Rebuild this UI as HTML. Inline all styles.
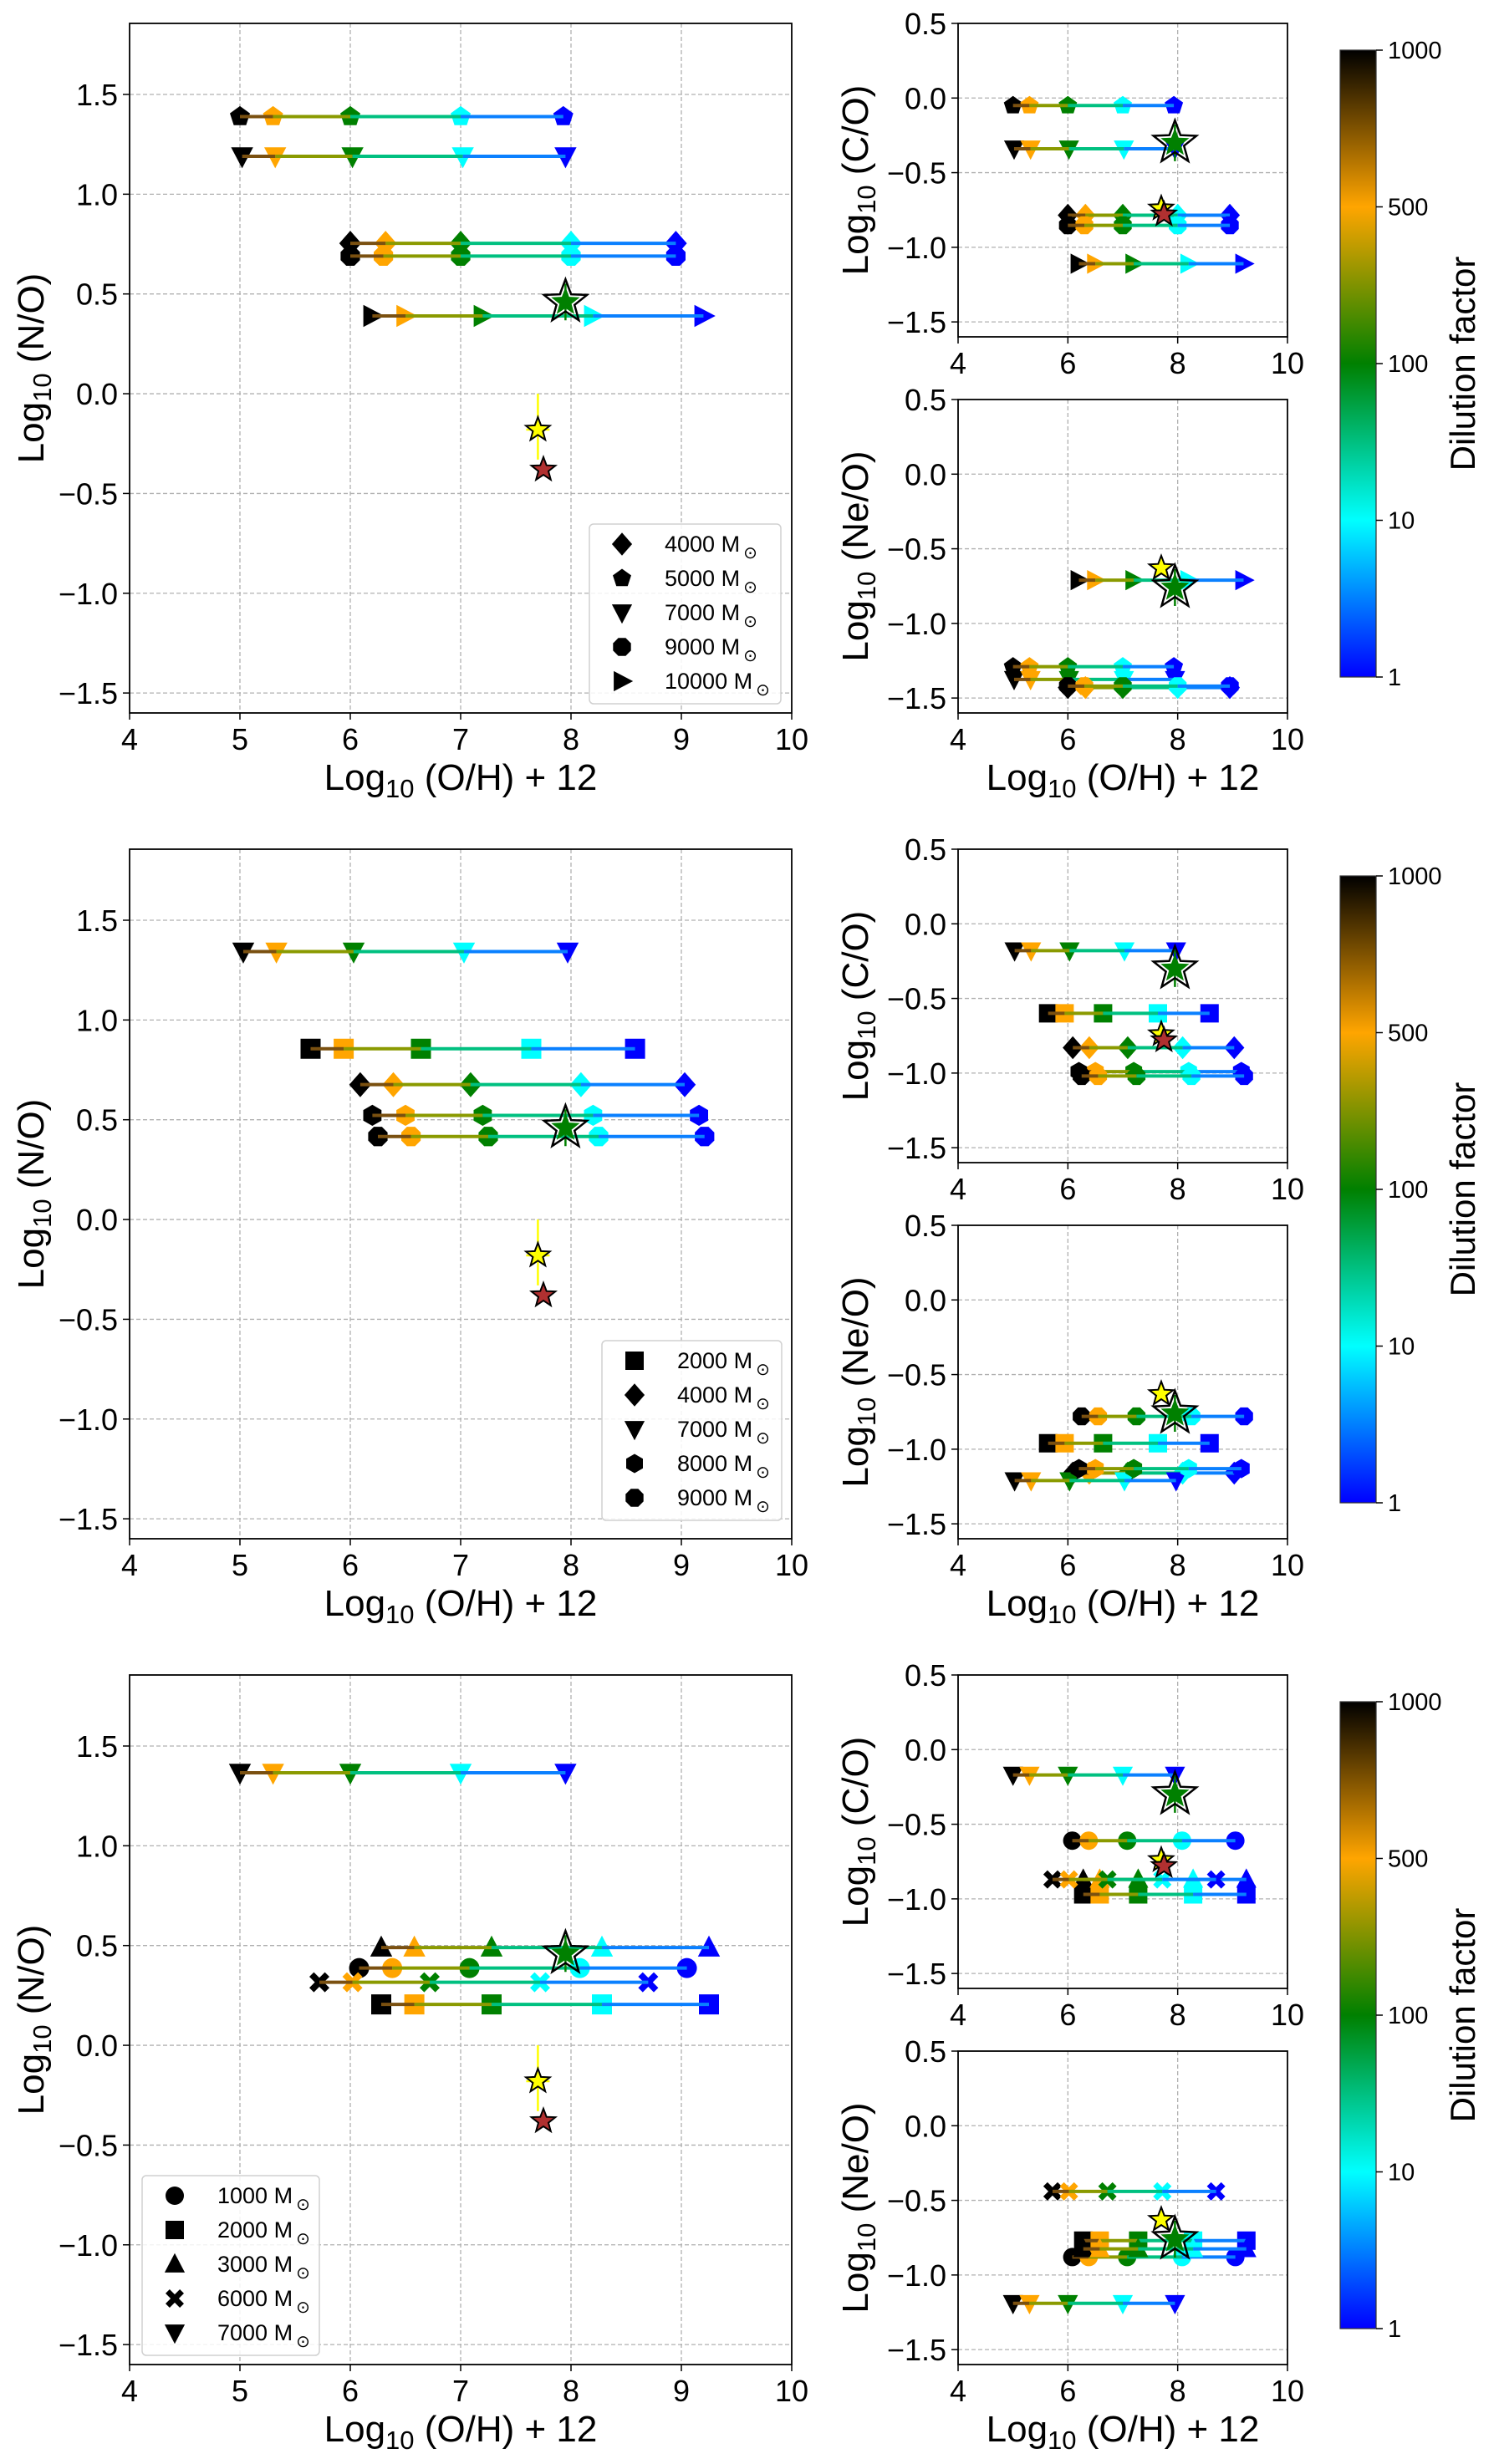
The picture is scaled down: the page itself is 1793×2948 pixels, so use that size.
<!DOCTYPE html>
<html><head><meta charset="utf-8"><style>
html,body{margin:0;padding:0;background:#fff;}
svg{display:block;font-family:"Liberation Sans",sans-serif;}
</style></head><body>
<svg id="fig" xmlns="http://www.w3.org/2000/svg" width="1793" height="2948" viewBox="0 0 1793 2948">
<defs>
<linearGradient id="cbgrad" x1="0" y1="0" x2="0" y2="1">
<stop offset="0" stop-color="#000000"/><stop offset="0.25" stop-color="#ffa500"/><stop offset="0.5" stop-color="#008000"/><stop offset="0.75" stop-color="#00ffff"/><stop offset="1" stop-color="#0000ff"/>
</linearGradient>
</defs>
</svg>
<script>
// ---------- data ----------
const dilutionLabels = ["1000","500","100","10","1"];
const markerColors = ["#000000","#ffa500","#008000","#00ffff","#0000ff"];
const segColors = ["#7a5010","#8a9a00","#00c080","#0a80ff"];
const rowOffsets = [0,988,1976];

// row 1
const r1Markers = ["diamond","pentagon","tridown","octagon","triright"];
const r1Labels = ["4000","5000","7000","9000","10000"];
const r1OH = [[6.0,6.32,7.0,8.0,8.95],[5.0,5.3,6.0,7.0,7.93],[5.02,5.32,6.02,7.02,7.95],[6.0,6.3,7.0,8.0,8.95],[6.2,6.5,7.2,8.2,9.2]];
const r1NO = [0.754,1.389,1.19,0.69,0.39];
const r1CO = [-0.785,-0.05,-0.34,-0.853,-1.11];
const r1NeO = [-1.43,-1.29,-1.375,-1.42,-0.71];
// row 2
const r2Markers = ["square","diamond","tridown","hexagon","octagon"];
const r2Labels = ["2000","4000","7000","8000","9000"];
const r2OH = [[5.64,5.94,6.64,7.64,8.58],[6.09,6.39,7.09,8.09,9.03],[5.03,5.33,6.03,7.03,7.97],[6.2,6.5,7.2,8.2,9.16],[6.25,6.55,7.25,8.25,9.21]];
const r2NO = [0.856,0.676,1.343,0.522,0.416];
const r2CO = [-0.60,-0.83,-0.18,-0.99,-1.02];
const r2NeO = [-0.96,-1.16,-1.21,-1.13,-0.78];
// row 3
const r3Markers = ["circle","square","triup","cross","tridown"];
const r3Labels = ["1000","2000","3000","6000","7000"];
const r3OH = [[6.08,6.38,7.08,8.08,9.05],[6.28,6.58,7.28,8.28,9.25],[6.28,6.58,7.28,8.28,9.25],[5.72,6.02,6.72,7.72,8.7],[5.0,5.3,6.0,7.0,7.95]];
const r3NO = [0.387,0.205,0.49,0.316,1.366];
const r3CO = [-0.61,-0.97,-0.87,-0.87,-0.17];
const r3NeO = [-0.88,-0.77,-0.825,-0.44,-1.19];
// observations
const obsOH = [7.95,7.7,7.75];
const obsNO = [0.46,-0.18,-0.38];
const obsCO = [-0.30,-0.74,-0.78];
const obsNeO = [-0.76,-0.63,null];
const obsColors = ["#008000","#ffff00","#b03030"];
const leftYTicks = [-1.5,-1.0,-0.5,0.0,0.5,1.0,1.5];
const leftXTicks = [4,5,6,7,8,9,10];
const rightYTicks = [-1.5,-1.0,-0.5,0.0,0.5];
const rightXTicks = [4,6,8,10];
const cbTicks = ["1000","500","100","10","1"];

// ---------- drawing ----------
const NS="http://www.w3.org/2000/svg";
const svg=document.getElementById('fig');
function mk(tag,attrs,parent){const e=document.createElementNS(NS,tag);for(const k in attrs)e.setAttribute(k,attrs[k]);(parent||svg).appendChild(e);return e;}
function fmt(v){const s=v.toFixed(1);return v<0?"\u2212"+s.slice(1):s;}

function markerPath(type,cx,cy,r){
  let p=[];
  const poly=(n,rot,rr)=>{for(let i=0;i<n;i++){const a=rot+i*2*Math.PI/n;p.push([cx+rr*Math.cos(a),cy+rr*Math.sin(a)]);}};
  switch(type){
    case "diamond": p=[[cx,cy-r*1.25],[cx+r*1.1,cy],[cx,cy+r*1.25],[cx-r*1.1,cy]];break;
    case "pentagon": poly(5,-Math.PI/2,r*1.05);break;
    case "hexagon": poly(6,-Math.PI/2,r*1.05);break;
    case "octagon": poly(8,Math.PI/8,r*1.05);break;
    case "square": p=[[cx-r,cy-r],[cx+r,cy-r],[cx+r,cy+r],[cx-r,cy+r]];break;
    case "tridown": p=[[cx-r*1.1,cy-r*0.9],[cx+r*1.1,cy-r*0.9],[cx,cy+r*1.2]];break;
    case "triup": p=[[cx-r*1.1,cy+r*0.9],[cx+r*1.1,cy+r*0.9],[cx,cy-r*1.2]];break;
    case "triright": p=[[cx-r*0.9,cy-r*1.1],[cx-r*0.9,cy+r*1.1],[cx+r*1.2,cy]];break;
    case "cross": {const a=r*0.45,b=r;p=[[cx-b,cy-b+a],[cx-b+a,cy-b],[cx,cy-a],[cx+b-a,cy-b],[cx+b,cy-b+a],[cx+a,cy],[cx+b,cy+b-a],[cx+b-a,cy+b],[cx,cy+a],[cx-b+a,cy+b],[cx-b,cy+b-a],[cx-a,cy]];break;}
    case "circle": return null;
  }
  return "M"+p.map(q=>q[0].toFixed(1)+","+q[1].toFixed(1)).join("L")+"Z";
}
function drawMarker(g,type,cx,cy,r,fill,name){
  let e;
  if(type==="circle"){e=mk('circle',{cx:cx,cy:cy,r:r,fill:fill},g);}
  else{e=mk('path',{d:markerPath(type,cx,cy,r),fill:fill},g);}
  
  
  return e;
}
function starPath(cx,cy,R){const ri=R*0.42;let s="";for(let i=0;i<10;i++){const a=-Math.PI/2+i*Math.PI/5;const rr=i%2?ri:R;s+=(i?"L":"M")+(cx+rr*Math.cos(a)).toFixed(1)+","+(cy+rr*Math.sin(a)).toFixed(1);}return s+"Z";}

function axes(cfg){
  const g=mk('g',{});
  
  
  const X=v=>cfg.x0+(v-cfg.xmin)/(cfg.xmax-cfg.xmin)*(cfg.x1-cfg.x0);
  const Y=v=>cfg.y1-(v-cfg.ymin)/(cfg.ymax-cfg.ymin)*(cfg.y1-cfg.y0);
  cfg.xt.forEach(t=>{const x=X(t);
    if(t>cfg.xmin&&t<cfg.xmax){const l=mk('line',{x1:x,x2:x,y1:cfg.y0,y2:cfg.y1,stroke:"#b0b0b0","stroke-width":1.3,"stroke-dasharray":"5,3"},g);}
    mk('line',{x1:x,x2:x,y1:cfg.y1,y2:cfg.y1+8,stroke:"#000","stroke-width":1.5},g);
    const tx=mk('text',{x:x,y:cfg.y1+44,"font-size":36,"text-anchor":"middle",fill:"#000"},g);tx.textContent=t;
    
  });
  cfg.yt.forEach(t=>{const y=Y(t);
    if(t>cfg.ymin&&t<cfg.ymax){const l=mk('line',{x1:cfg.x0,x2:cfg.x1,y1:y,y2:y,stroke:"#b0b0b0","stroke-width":1.3,"stroke-dasharray":"5,3"},g);}
    mk('line',{x1:cfg.x0-8,x2:cfg.x0,y1:y,y2:y,stroke:"#000","stroke-width":1.5},g);
    const tx=mk('text',{x:cfg.x0-14,y:y+13,"font-size":36,"text-anchor":"end",fill:"#000"},g);tx.textContent=fmt(t);
    
  });
  const fr=mk('rect',{x:cfg.x0,y:cfg.y0,width:cfg.x1-cfg.x0,height:cfg.y1-cfg.y0,fill:"none",stroke:"#000","stroke-width":1.8},g);
  
  const yc=(cfg.y0+cfg.y1)/2;
  const yt=mk('text',{x:0,y:0,"font-size":44,"text-anchor":"middle",fill:"#000",transform:`translate(${cfg.ytx},${yc}) rotate(-90)`},g);
  yt.innerHTML='Log<tspan font-size="31" dy="9">10</tspan><tspan dy="-9"> '+cfg.ytitle+'</tspan>';
  
  if(cfg.xtitle){
    const xt=mk('text',{x:(cfg.x0+cfg.x1)/2,y:cfg.y1+92,"font-size":44,"text-anchor":"middle",fill:"#000"},g);
    xt.innerHTML='Log<tspan font-size="31" dy="9">10</tspan><tspan dy="-9"> (O/H) + 12</tspan>';
    
  }
  return {g,X,Y};
}

function drawSeries(ax,markers,ohs,vals,r,prefix){
  markers.forEach((m,si)=>{
    const sg=mk('g',{},ax.g);
    
    
    const y=ax.Y(vals[si]);
    ohs[si].forEach((oh,i)=>drawMarker(sg,m,ax.X(oh),y,r,markerColors[i],'point-'+m+'-d'+dilutionLabels[i]));
    for(let i=0;i<4;i++){
      const l=mk('line',{x1:ax.X(ohs[si][i]),x2:ax.X(ohs[si][i+1]),y1:y,y2:y,stroke:segColors[i],"stroke-width":4},sg);
      
    }
  });
}
function drawObs(ax,vals,errbars){
  [1,2,0].forEach(i=>{
    if(vals[i]===null)return;
    const x=ax.X(obsOH[i]),y=ax.Y(vals[i]);
    if(errbars&&i===1){const l=mk('line',{x1:x,x2:x,y1:ax.Y(vals[i]+0.18),y2:ax.Y(vals[i]-0.15),stroke:"#ffff00","stroke-width":2.5},ax.g);
      mk('line',{x1:x-14,x2:x+14,y1:y,y2:y,stroke:"#ffff00","stroke-width":2.5},ax.g);}
    let s;
    if(i===0){
      mk('line',{x1:x,x2:x,y1:y-22,y2:y+22,stroke:"#008000","stroke-width":2.5},ax.g);
      mk('path',{d:starPath(x,y,18),fill:"#008000"},ax.g);
      s=mk('path',{d:starPath(x,y,27),fill:"none",stroke:"#000","stroke-width":2.5},ax.g);
    } else {
      s=mk('path',{d:starPath(x,y,15),fill:obsColors[i],stroke:"#000","stroke-width":2},ax.g);
    }
    
    
  });
}
function drawLegend(x,y,w,markers,labels,name){
  const g=mk('g',{});
  
  
  mk('rect',{x:x,y:y,width:w,height:215,rx:5,fill:"#fff","fill-opacity":0.85,stroke:"#d0d0d0","stroke-width":1.5},g);
  markers.forEach((m,i)=>{
    const cy=y+24+i*41;
    drawMarker(g,m,x+39,cy,11,"#000",'legend-marker-'+m);
    const t=mk('text',{x:x+90,y:cy+9,"font-size":27,fill:"#000"},g);
    t.innerHTML=labels[i]+' M<tspan font-size="20" dx="4" dy="8">\u2299</tspan>';
    
    
  });
}
function drawColorbar(off){
  const g=mk('g',{});
  
  
  const y0=60+off,y1=810+off;
  mk('rect',{x:1603,y:y0,width:43,height:y1-y0,fill:"url(#cbgrad)",stroke:"#333","stroke-width":1.2},g);
  cbTicks.forEach((t,i)=>{const y=y0+i*(y1-y0)/(cbTicks.length-1);
    mk('line',{x1:1646,x2:1654,y1:y,y2:y,stroke:"#000","stroke-width":1.5},g);
    const tx=mk('text',{x:1660,y:y+10,"font-size":29,fill:"#000"},g);tx.textContent=t;
    });
  const lt=mk('text',{x:0,y:0,"font-size":42,"text-anchor":"middle",fill:"#000",transform:`translate(1764,${(y0+y1)/2}) rotate(-90)`},g);
  lt.textContent="Dilution factor";
  
}

const rows=[
 {m:r1Markers,oh:r1OH,no:r1NO,co:r1CO,ne:r1NeO,lab:r1Labels,leg:r1Markers,legPos:[705,627,229]},
 {m:r2Markers,oh:r2OH,no:r2NO,co:r2CO,ne:r2NeO,lab:r2Labels,leg:r2Markers,legPos:[720,1604,215]},
 {m:r3Markers,oh:r3OH,no:r3NO,co:r3CO,ne:r3NeO,lab:r3Labels,leg:r3Markers,legPos:[170,2603,212]}
];
rows.forEach((row,ri)=>{
  const off=rowOffsets[ri];
  const L=axes({name:'no-panel-row'+(ri+1),x0:155,x1:947,y0:28+off,y1:853+off,xmin:4,xmax:10,ymin:-1.6,ymax:1.856,xt:leftXTicks,yt:leftYTicks,ytx:52,ytitle:"(N/O)",xtitle:true});
  drawSeries(L,row.m,row.oh,row.no,12,'no');
  drawObs(L,obsNO,true);
  const C=axes({name:'co-panel-row'+(ri+1),x0:1146,x1:1540,y0:28+off,y1:403+off,xmin:4,xmax:10,ymin:-1.6,ymax:0.5,xt:rightXTicks,yt:rightYTicks,ytx:1038,ytitle:"(C/O)",xtitle:false});
  drawSeries(C,row.m,row.oh,row.co,11,'co');
  drawObs(C,obsCO,false);
  const N=axes({name:'neo-panel-row'+(ri+1),x0:1146,x1:1540,y0:478+off,y1:853+off,xmin:4,xmax:10,ymin:-1.6,ymax:0.5,xt:rightXTicks,yt:rightYTicks,ytx:1038,ytitle:"(Ne/O)",xtitle:true});
  drawSeries(N,row.m,row.oh,row.ne,11,'neo');
  drawObs(N,obsNeO,false);
  drawLegend(row.legPos[0],row.legPos[1],row.legPos[2],row.leg,row.lab,'legend-row'+(ri+1));
  drawColorbar(off);
});
</script>
</body></html>
